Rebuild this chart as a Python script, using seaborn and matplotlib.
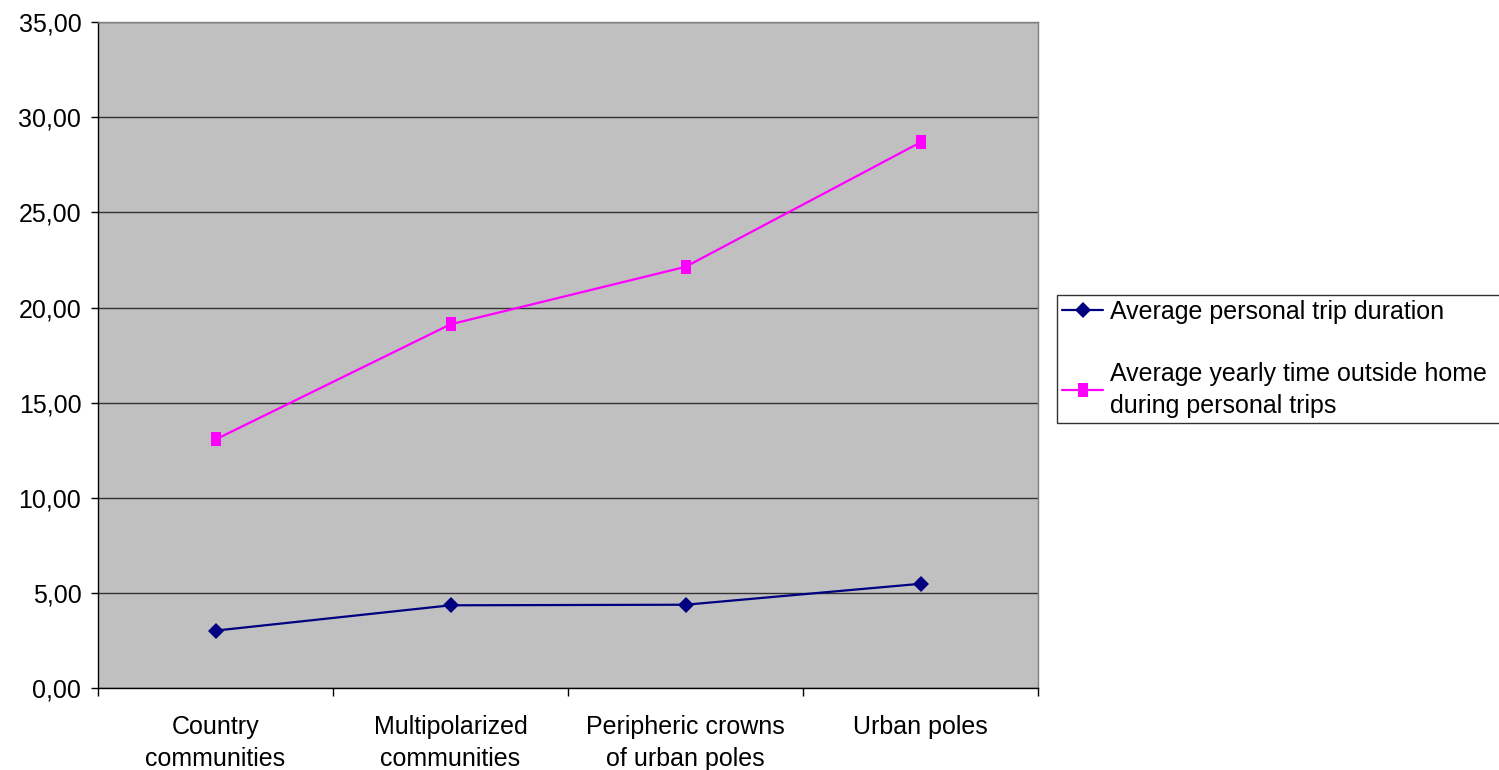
import matplotlib
matplotlib.use("Agg")
import matplotlib.pyplot as plt
import seaborn as sns
import pandas as pd
from matplotlib.ticker import FixedLocator, FuncFormatter

categories = ["Country\ncommunities", "Multipolarized\ncommunities",
              "Peripheric crowns\nof urban poles", "Urban poles"]
trip_duration = [3.03, 4.36, 4.39, 5.49]
yearly_time = [13.07, 19.12, 22.14, 28.68]
series_names = ["Average personal trip duration",
                "Average yearly time outside home\nduring personal trips"]
y_ticks = [0, 5, 10, 15, 20, 25, 30, 35]

df = pd.DataFrame({
    "category": categories * 2,
    "value": trip_duration + yearly_time,
    "series": [series_names[0]] * 4 + [series_names[1]] * 4,
})
df["pos"] = df["category"].map({c: i for i, c in enumerate(categories)})

sns.set_theme(style="white")
plt.rcParams["font.family"] = ["Liberation Sans", "DejaVu Sans"]
plt.rcParams["text.color"] = "black"
plt.rcParams["xtick.color"] = "black"
plt.rcParams["ytick.color"] = "black"
plt.rcParams["axes.labelcolor"] = "black"

FS = 18
LINESPACING = 1.43
NAVY = "#000080"
MAGENTA = "#FF00FF"
# slightly tall rectangle marker for the magenta series
rect = [(-0.36, -0.5), (0.36, -0.5), (0.36, 0.5), (-0.36, 0.5), (-0.36, -0.5)]
DIAMOND_SIZE = 8.0
RECT_SIZE = 9.5

fig = plt.figure(figsize=(14.99, 7.70), dpi=100)
ax = fig.add_axes([98 / 1499, 1 - 688.3 / 770, (1038 - 98) / 1499, (688.3 - 22) / 770])
ax.set_facecolor("#C0C0C0")

palette = {series_names[0]: NAVY, series_names[1]: MAGENTA}
markers = {series_names[0]: "D", series_names[1]: rect}
sns.lineplot(data=df, x="pos", y="value", hue="series", style="series",
             palette=palette, markers=markers, dashes=False, linewidth=1.6,
             markersize=8, markeredgewidth=0, ax=ax, legend=False)

for line in ax.get_lines():
    if line.get_color() == NAVY:
        line.set_markersize(DIAMOND_SIZE)
    else:
        line.set_markersize(RECT_SIZE)

ax.set_xlim(-0.5, 3.5)
ax.set_ylim(0, 35)
ax.set_yticks(y_ticks)
ax.yaxis.set_major_formatter(FuncFormatter(lambda v, p: f"{v:.2f}".replace(".", ",")))
ax.yaxis.grid(True, color="#333333", linewidth=1.0)
ax.set_axisbelow(True)

ax.set_xticks(range(len(categories)))
ax.set_xticklabels(categories, fontsize=FS, linespacing=LINESPACING)
ax.xaxis.set_minor_locator(FixedLocator([-0.5, 0.5, 1.5, 2.5, 3.5]))
ax.tick_params(axis="x", which="major", length=0, pad=19)
ax.tick_params(axis="x", which="minor", length=6, width=1, color="black", direction="out", bottom=True)
ax.tick_params(axis="y", length=5, width=1, color="black", direction="out", labelsize=FS, pad=7, left=True)
ax.set_xlabel("")
ax.set_ylabel("")

for side in ("left", "bottom"):
    ax.spines[side].set_color("black")
    ax.spines[side].set_linewidth(1.0)
for side in ("top", "right"):
    ax.spines[side].set_color("#808080")
    ax.spines[side].set_linewidth(1.0)

handles = [
    plt.Line2D([], [], color=NAVY, marker="D", markersize=DIAMOND_SIZE, markeredgewidth=0, linewidth=1.6),
    plt.Line2D([], [], color=MAGENTA, marker=rect, markersize=RECT_SIZE, markeredgewidth=0, linewidth=1.6),
]
# legend box runs past the right edge of the figure
x0 = 1057 / 1499
leg = fig.legend(handles, series_names, loc="upper left",
                 bbox_to_anchor=(x0, 1 - 295 / 770, 1.01 - x0, 0.0), mode="expand",
                 frameon=True, fancybox=False, fontsize=FS, handlelength=1.65,
                 handletextpad=0.25, labelspacing=1.5, borderpad=0.2,
                 borderaxespad=0)
for t in leg.get_texts():
    t.set_linespacing(LINESPACING)
leg.get_frame().set_edgecolor("black")
leg.get_frame().set_linewidth(1.0)

fig.savefig("out.png", dpi=100, facecolor="white")
